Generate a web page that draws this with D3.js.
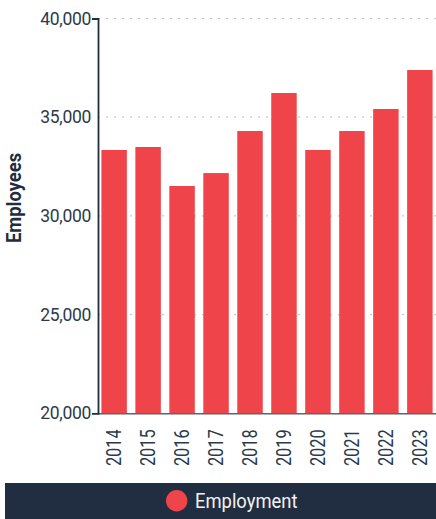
<!DOCTYPE html>
<html><head><meta charset="utf-8">
<script src="https://cdn.jsdelivr.net/npm/d3@7"></script>
<style>
html,body{margin:0;padding:0;background:#fff;}
svg{display:block;font-family:Roboto, "Noto Sans", sans-serif;}
</style></head>
<body>
<svg id="c" width="436" height="519"></svg>
<script>
const years = ["2014","2015","2016","2017","2018","2019","2020","2021","2022","2023"];
const employment = [33340, 33490, 31515, 32170, 34300, 36225, 33340, 34300, 35415, 37390];
const yTicks = [20000, 25000, 30000, 35000, 40000];
const seriesName = "Employment";
const yTitle = "Employees";

const svg = d3.select("#c");
const W = 436, H = 519;
const m = {left: 98, right: 0, top: 18.5, bottom: 106};
const x = d3.scaleBand().domain(years).range([m.left, W - m.right]).paddingInner(0.25).paddingOuter(0.1);
const y = d3.scaleLinear().domain([20000, 40000]).range([413.3, m.top]);
const textCol = "#2c3a4b";

// grid
svg.append("g").selectAll("line").data(yTicks.filter(d => d > 20000)).join("line")
  .attr("x1", m.left).attr("x2", W).attr("y1", d => y(d)).attr("y2", d => y(d))
  .attr("stroke", "#c8c8c8").attr("stroke-width", 1.2).attr("stroke-dasharray", "2,6");

// bars
svg.append("g").selectAll("rect").data(years).join("rect")
  .attr("x", d => x(d)).attr("width", x.bandwidth())
  .attr("y", (d, i) => y(employment[i])).attr("height", (d, i) => y(20000) - y(employment[i]))
  .attr("fill", "#f0444b");

// x axis
const xa = svg.append("g").attr("transform", `translate(0,${y(20000)})`)
  .call(d3.axisBottom(x).tickSize(0).tickPadding(0));
xa.select(".domain").attr("stroke", "#5b6571").attr("stroke-width", 1.5);
xa.selectAll(".tick text")
  .attr("transform", "rotate(-90) translate(-16,0) scale(0.82,1)").attr("text-anchor", "end")
  .attr("x", 0).attr("y", 0).attr("dy", "0.36em")
  .attr("font-size", 20).attr("font-family", "Roboto").attr("fill", textCol);

// y axis
const ya = svg.append("g").attr("transform", `translate(${m.left},0)`)
  .call(d3.axisLeft(y).tickValues(yTicks).tickFormat(d3.format(",")).tickSizeInner(0).tickSizeOuter(6).tickPadding(7));
ya.select(".domain").attr("stroke", "#1f2d3d").attr("stroke-width", 1.8);
ya.selectAll(".tick text").attr("font-size", 17.5).attr("font-family", "Roboto")
  .attr("fill", textCol).attr("letter-spacing", -0.3);

// y title
svg.append("text").attr("transform", `translate(21,198) rotate(-90) scale(0.92,1)`)
  .attr("text-anchor", "middle").attr("font-size", 20).attr("font-weight", "bold")
  .attr("fill", "#1f2d3d").text(yTitle);

// legend
svg.append("rect").attr("x", 5).attr("y", 483).attr("width", W - 5).attr("height", 36).attr("fill", "#212e41");
svg.append("circle").attr("cx", 176.7).attr("cy", 500.8).attr("r", 10.7).attr("fill", "#f0444b");
svg.append("text").attr("transform", "translate(195,500.8) scale(0.92,1)").attr("dy", "0.36em")
  .attr("font-size", 20).attr("fill", "#f2f2f2").text(seriesName);
</script>
</body></html>
